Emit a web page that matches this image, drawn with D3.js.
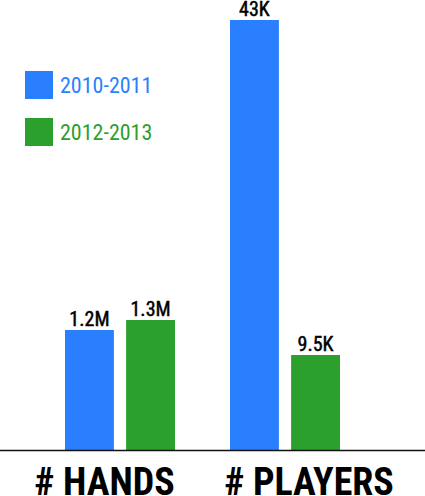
<!DOCTYPE html>
<html><head><meta charset="utf-8">
<script src="https://cdn.jsdelivr.net/npm/d3@7"></script>
<style>
html,body{margin:0;padding:0;background:#fff;}
text{font-family:"Liberation Sans Narrow","Roboto Condensed","Arial Narrow","Liberation Sans",sans-serif;}
</style></head>
<body><div id="chart"></div>
<script>
const groups = ["# HANDS", "# PLAYERS"];
const series = ["2010-2011", "2012-2013"];
const colors = ["#2a7fff", "#2ca02c"];
const values = [[1200000, 1300000], [43000, 9500]];
const labels = [["1.2M", "1.3M"], ["43K", "9.5K"]];
const units = [10000, 100]; // display unit per group

const W = 425, H = 496;
const svg = d3.select("#chart").append("svg").attr("width", W).attr("height", H);

const x0 = d3.scaleOrdinal().domain(groups).range([65, 230]);
const x1 = d3.scaleBand().domain(series).range([0, 110]).paddingInner(0.2).paddingOuter(0);
const y = d3.scaleLinear().domain([0, 430]).range([450, 20]);

groups.forEach((g, gi) => {
  const gg = svg.append("g").attr("transform", `translate(${x0(g)},0)`);
  series.forEach((s, si) => {
    const v = values[gi][si] / units[gi];
    gg.append("rect").attr("x", x1(s)).attr("y", y(v)).attr("width", x1.bandwidth())
      .attr("height", y(0) - y(v)).attr("fill", colors[si]);
    gg.append("text").attr("x", x1(s) + x1.bandwidth() / 2).attr("y", y(v) - 4)
      .attr("text-anchor", "middle").attr("font-size", 20)
      .attr("fill", "#000").attr("stroke", "#000").attr("stroke-width", 0.45)
      .text(labels[gi][si]);
  });
});

svg.append("line").attr("x1", 0).attr("x2", W).attr("y1", 450.5).attr("y2", 450.5)
  .attr("stroke", "#111").attr("stroke-width", 1.5);

const axisX = [104.5, 309];
groups.forEach((g, gi) => {
  svg.append("text").attr("x", axisX[gi]).attr("y", 495).attr("text-anchor", "middle")
    .attr("font-size", 38).attr("font-weight", "bold").attr("fill", "#000").text(g);
});

const legend = svg.append("g");
series.forEach((s, si) => {
  legend.append("rect").attr("x", 25).attr("y", 71 + si * 47).attr("width", 28).attr("height", 28)
    .attr("fill", colors[si]);
  legend.append("text").attr("x", 60).attr("y", 93 + si * 47).attr("font-size", 22)
    .attr("fill", colors[si]).text(s);
});
</script></body></html>
